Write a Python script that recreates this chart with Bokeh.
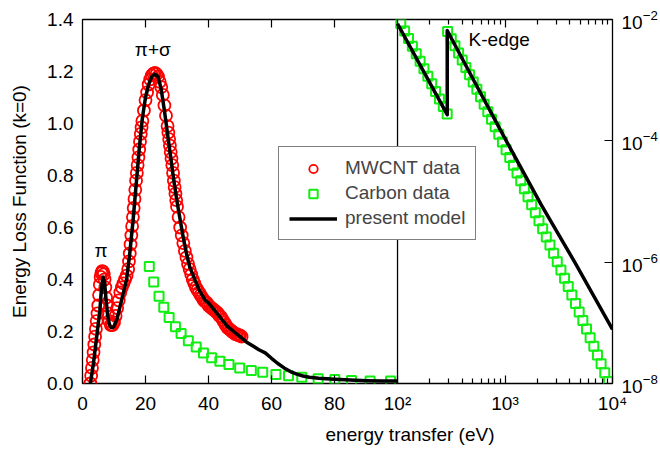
import math
from bokeh.plotting import figure
from bokeh.models import (Range1d, LinearAxis, LogAxis, LogScale, FixedTicker, Span, Title,
                          Label, Legend, LegendItem, PrintfTickFormatter, CustomJSTickFormatter)
from bokeh.embed import file_html
from bokeh.resources import INLINE

# ---------------- data ----------------
# MWCNT data (red circles), energy in eV
mwcnt_x = [2.5, 2.75, 3.0, 3.25, 3.5, 3.75, 4.0, 4.25, 4.5, 4.75, 5.0, 5.25, 5.5, 5.75,
           6.0, 6.25, 6.5, 6.75, 7.0, 7.25, 7.5, 7.75, 8.0, 8.5, 9.0, 9.5, 10.0, 10.5,
           11.0, 11.5, 12.0, 12.5, 13.0, 13.5, 14.0, 14.5, 14.75, 15.0, 15.25, 15.5,
           15.75, 16.0, 16.25, 16.5, 16.75, 17.0, 17.25, 17.5, 17.75, 18.0, 18.25, 18.5,
           18.75, 19.0, 19.5, 20.0, 20.5, 21.0, 21.5, 22.0, 22.5, 23.0, 23.5, 24.0, 24.5,
           25.0, 25.5, 26.0, 26.5, 27.0, 27.25, 27.5, 27.75, 28.0, 28.25, 28.5, 28.75,
           29.0, 29.25, 29.5, 29.75, 30.0, 30.5, 31.0, 31.5, 32.0, 32.5, 33.0, 33.5,
           34.0, 34.5, 35.0, 35.5, 36.0, 36.5, 37.0, 37.5, 38.0, 38.5, 39.0, 39.5, 40.0,
           40.5, 41.0, 41.5, 42.0, 42.5, 43.0, 43.5, 44.0, 44.5, 45.0, 45.5, 46.0, 46.5,
           47.0, 47.5, 48.0, 48.5, 49.0, 49.5, 50.0, 50.5]
mwcnt_y = [0.00, 0.03, 0.06, 0.09, 0.12, 0.15, 0.18, 0.21, 0.24, 0.27, 0.30, 0.34, 0.38, 0.41,
           0.425, 0.432, 0.43, 0.42, 0.40, 0.37, 0.33, 0.30, 0.27, 0.24, 0.225, 0.225, 0.235, 0.26,
           0.29, 0.32, 0.35, 0.37, 0.385, 0.40, 0.415, 0.44, 0.47, 0.50, 0.535, 0.57,
           0.605, 0.64, 0.675, 0.71, 0.745, 0.78, 0.81, 0.84, 0.87, 0.90, 0.93, 0.96,
           0.985, 1.01, 1.05, 1.09, 1.12, 1.15, 1.17, 1.185, 1.192, 1.195, 1.19, 1.18, 1.16,
           1.14, 1.11, 1.07, 1.03, 0.99, 0.965, 0.94, 0.915, 0.89, 0.865, 0.84, 0.81,
           0.78, 0.755, 0.73, 0.705, 0.68, 0.64, 0.60, 0.57, 0.54, 0.51, 0.485, 0.46,
           0.44, 0.42, 0.40, 0.385, 0.37, 0.36, 0.35, 0.34, 0.33, 0.32, 0.315, 0.31, 0.30,
           0.295, 0.29, 0.285, 0.28, 0.275, 0.27, 0.26, 0.255, 0.245, 0.235, 0.225, 0.215, 0.21,
           0.205, 0.20, 0.195, 0.19, 0.19, 0.185, 0.185, 0.18]

# Carbon data, linear panel (green squares)
carbon_lin_x = [21.2, 22.6, 24.3, 25.8, 27.5, 29.5, 31.3, 33.6, 36.1, 38.4, 41.0, 43.6,
                46.5, 49.9, 53.6, 57.2, 61.4, 65.4, 69.6, 74.8, 80.1, 85.4, 91.3, 97.8]
carbon_lin_y = [0.45, 0.39, 0.336, 0.293, 0.254, 0.218, 0.192, 0.164, 0.14, 0.117, 0.099, 0.086,
                0.073, 0.060, 0.050, 0.043, 0.035, 0.030, 0.024, 0.018, 0.015, 0.012, 0.010, 0.010]

# Carbon data, log panel (green squares)
carbon_log_x = [107.2, 116.4, 126.5, 137.4, 149.3, 162.2, 176.2, 191.4, 208.0, 225.9, 245.5,
                266.7, 289.7,
                292.4, 316.2, 342.0, 369.8, 399.9, 432.5, 467.7, 505.8, 547.0, 591.6, 639.7,
                691.8, 748.2, 809.1, 875.0, 946.2, 1023, 1107, 1197, 1294, 1400, 1514, 1637,
                1770, 1914, 2070, 2239, 2421, 2618, 2831, 3062, 3311, 3581, 3873, 4188, 4529,
                4898, 5297, 5728, 6194, 6699, 7244, 7834, 8472, 9162]
carbon_log_y = [8.59e-3, 6.45e-3, 4.84e-3, 3.64e-3, 2.73e-3, 2.05e-3, 1.54e-3, 1.16e-3, 8.69e-4,
                6.52e-4, 4.90e-4, 3.68e-4, 2.76e-4,
                6.32e-3, 4.83e-3, 3.68e-3, 2.81e-3, 2.14e-3, 1.62e-3, 1.23e-3, 9.33e-4, 7.06e-4,
                5.33e-4, 4.02e-4, 3.02e-4, 2.27e-4, 1.71e-4, 1.28e-4, 9.55e-5, 7.14e-5, 5.33e-5,
                3.96e-5, 2.95e-5, 2.19e-5, 1.62e-5, 1.20e-5, 8.87e-6, 6.55e-6, 4.82e-6, 3.55e-6,
                2.61e-6, 1.91e-6, 1.40e-6, 1.02e-6, 7.46e-7, 5.44e-7, 3.96e-7, 2.88e-7, 2.09e-7,
                1.51e-7, 1.09e-7, 7.90e-8, 5.70e-8, 4.10e-8, 2.94e-8, 2.11e-8, 1.51e-8, 1.08e-8]

# present model (black line), linear panel
model_lin_x = [2.5, 3.5, 4.5, 5.5, 6.0, 6.5, 7.0, 7.5, 8.0, 8.5, 9.0, 9.5, 10, 11, 12, 13, 14,
               15, 16, 17, 18, 19, 20, 21, 22, 23, 24, 25, 26, 27, 28, 29, 30, 31, 32, 33, 34,
               35, 36, 37, 38, 39, 40, 42, 44, 46, 48, 50, 52, 54, 56, 58, 60, 62, 64, 66, 68,
               70, 72, 75, 80, 85, 90, 95, 100]
model_lin_y = [0.0, 0.08, 0.18, 0.28, 0.36, 0.41, 0.39, 0.32, 0.26, 0.23, 0.215, 0.215, 0.22,
               0.25, 0.30, 0.35, 0.40, 0.50, 0.62, 0.76, 0.90, 1.02, 1.10, 1.15, 1.18, 1.19,
               1.18, 1.13, 1.05, 0.96, 0.87, 0.78, 0.70, 0.63, 0.56, 0.50, 0.45, 0.42, 0.39,
               0.36, 0.34, 0.32, 0.31, 0.28, 0.25, 0.22, 0.20, 0.18, 0.16, 0.145, 0.13, 0.118,
               0.097, 0.077, 0.060, 0.046, 0.036, 0.029, 0.024, 0.02, 0.016, 0.013, 0.011,
               0.010, 0.010]

# present model (black line), log panel
model_log_x = [100, 290, 290, 546, 1033, 2168, 4560, 10000]
model_log_y = [8.5e-3, 2.7e-4, 6.6e-3, 8.0e-4, 9.8e-5, 8.9e-6, 9.3e-7, 7.8e-8]

lin_ticks = [0, 20, 40, 60, 80]
y_ticks = [0.0, 0.2, 0.4, 0.6, 0.8, 1.0, 1.2, 1.4]
log_x_ticks = [100, 1000, 10000]
log_x_labels = ["10\u00b2", "10\u00b3", "10\u2074"]
log_x_minor = [200, 300, 400, 500, 600, 700, 800, 900,
               2000, 3000, 4000, 5000, 6000, 7000, 8000, 9000]
log_y_ticks = [1e-8, 1e-6, 1e-4, 1e-2]

# ---------------- layout ----------------
W, H = 660, 455
BL, BR, BT, BB = 82, 43, 19, 72
frame_w = W - BL - BR
left_w = 318
frac = left_w / frame_w
x_end = 100 / frac
log_start = 2 - 2 * frac / (1 - frac)


def virt(v):
    # position of a log-panel abscissa on the shared (main) horizontal axis
    return 100 + (math.log10(v) - 2) / 2 * (x_end - 100)


FONT = "Liberation Sans"
FS = "19px"
GREEN = "#11ee11"

p = figure(width=W, height=H, output_backend="svg", toolbar_location=None,
           x_range=Range1d(0, x_end), y_range=Range1d(0, 1.4),
           x_axis_location=None, y_axis_location=None,
           min_border_left=BL, min_border_right=BR, min_border_top=BT, min_border_bottom=BB)
p.grid.visible = False
p.outline_line_color = "black"
p.outline_line_width = 1.3
p.background_fill_color = "white"
p.border_fill_color = "white"

p.extra_x_ranges = {"logx": Range1d(10 ** log_start, 1e4)}
p.extra_x_scales = {"logx": LogScale()}
p.extra_y_ranges = {"logy": Range1d(1e-8, 1e-2)}
p.extra_y_scales = {"logy": LogScale()}


def style(ax, tick_in=7, minor_in=0, labels=True):
    ax.axis_line_color = None
    ax.major_tick_in = tick_in
    ax.major_tick_out = 0
    ax.minor_tick_in = minor_in
    ax.minor_tick_out = 0
    ax.major_tick_line_color = "black"
    ax.minor_tick_line_color = "black"
    ax.major_tick_line_width = 1.2
    ax.minor_tick_line_width = 1.2
    ax.major_label_text_font = FONT
    if labels:
        ax.major_label_text_color = "black"
        ax.major_label_text_font_size = FS
        ax.major_label_standoff = 9
    else:
        ax.major_label_text_color = None
        ax.major_label_text_font_size = "1px"
        ax.major_label_standoff = 0


# left y axis
ay = LinearAxis(ticker=FixedTicker(ticks=y_ticks), formatter=PrintfTickFormatter(format="%.1f"),
                axis_label="Energy Loss Function (k=0)")
style(ay, tick_in=0)
ay.axis_label_text_font = FONT
ay.axis_label_text_font_size = FS
ay.axis_label_text_font_style = "normal"
ay.axis_label_text_color = "black"
ay.axis_label_standoff = 14
p.add_layout(ay, "left")

# right y axis (log)
ayr = LogAxis(y_range_name="logy", ticker=FixedTicker(ticks=log_y_ticks, minor_ticks=[]))
style(ayr, tick_in=8)
p.add_layout(ayr, "right")

# shared horizontal axes: linear part + log part on one axis line
log_pos = [virt(v) for v in log_x_ticks]
minor_pos = [virt(v) for v in log_x_minor]
fmt = CustomJSTickFormatter(args=dict(pos=log_pos, labs=log_x_labels), code="""
for (let i = 0; i < pos.length; i++) {
  if (Math.abs(tick - pos[i]) < 1e-6) { return labs[i]; }
}
return tick.toFixed(0);
""")
axb = LinearAxis(ticker=FixedTicker(ticks=lin_ticks + log_pos, minor_ticks=minor_pos),
                 formatter=fmt)
style(axb, tick_in=8, minor_in=5)
p.add_layout(axb, "below")

axt = LinearAxis(ticker=FixedTicker(ticks=lin_ticks[1:] + log_pos[1:2], minor_ticks=minor_pos))
style(axt, tick_in=8, minor_in=5, labels=False)
p.add_layout(axt, "above")

# x axis title
p.add_layout(Title(text="energy transfer (eV)", align="left", offset=243, standoff=10,
                   text_font=FONT, text_font_size=FS, text_font_style="normal",
                   text_color="black"), "below")

# panel separator
p.add_layout(Span(location=100, dimension="height", line_color="black", line_width=1.3))

# glyphs
g_lin = p.scatter(carbon_lin_x, carbon_lin_y, marker="square", size=9, fill_color=None,
                  line_color=GREEN, line_width=2)
g_log = p.scatter(carbon_log_x, carbon_log_y, marker="square", size=9, fill_color=None,
                  line_color=GREEN, line_width=2, x_range_name="logx", y_range_name="logy")
r_m = p.scatter(mwcnt_x, mwcnt_y, marker="circle", size=12, fill_color=None,
                line_color="#ff0000", line_width=1.8)
l_lin = p.line(model_lin_x, model_lin_y, line_color="black", line_width=3.5, line_join="round")
l_log = p.line(model_log_x, model_log_y, line_color="black", line_width=3.5, line_join="round",
               x_range_name="logx", y_range_name="logy")

# annotations
p.add_layout(Label(x=22.3, y=1.285, text="π+σ", text_align="center", text_baseline="middle",
                   text_font=FONT, text_font_size=FS, text_color="black"))
p.add_layout(Label(x=5.9, y=0.513, text="π", text_align="center", text_baseline="middle",
                   text_font=FONT, text_font_size=FS, text_color="black"))
p.add_layout(Label(x=458, y=4.76e-3, x_range_name="logx", y_range_name="logy", text="K-edge",
                   text_align="left", text_baseline="middle",
                   text_font=FONT, text_font_size=FS, text_color="black"))

legend = Legend(items=[LegendItem(label="MWCNT data", renderers=[r_m]),
                       LegendItem(label="Carbon data", renderers=[g_lin]),
                       LegendItem(label="present model", renderers=[l_lin])],
                location=(196, 143))
legend.border_line_color = "black"
legend.border_line_width = 1
legend.background_fill_color = "white"
legend.background_fill_alpha = 1
legend.label_text_font = FONT
legend.label_text_font_size = FS
legend.glyph_width = 48
legend.glyph_height = 21
legend.label_height = 21
legend.label_standoff = 8
legend.padding = 10
legend.spacing = 3
legend.margin = 0
p.add_layout(legend, "center")

open("out.html", "w").write(file_html(p, INLINE))
